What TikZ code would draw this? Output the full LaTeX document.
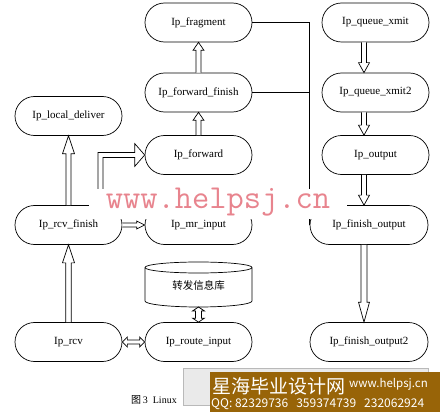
\documentclass[tikz,border=0pt]{standalone}
\usepackage{fontspec}
\setmainfont{Liberation Serif}
\newfontfamily\cjk{Noto Sans CJK SC}
\usetikzlibrary{shapes.misc,calc}
\definecolor{wmpink}{RGB}{232,132,142}
\definecolor{bannerbrown}{RGB}{152,100,8}
\definecolor{boxgrey}{RGB}{234,234,234}
\tikzset{
  proc/.style={rounded rectangle, draw, line width=0.7pt, minimum width=107pt,
    minimum height=39pt, inner sep=0pt, font=\fontsize{11}{13}\selectfont},
  blk/.style={draw, line width=0.7pt, line join=miter, fill=white},
  conn/.style={draw, line width=0.7pt},
}
% single block arrow: from, to, half shaft, half head, head length
\newcommand\blkarrow[5]{%
  \coordinate (bkH) at ($(#2)!#5!(#1)$);
  \draw[blk] ($(#1)!#3!90:(#2)$) -- ($(bkH)!#3!90:(#2)$) -- ($(bkH)!#4!90:(#2)$)
    -- (#2) -- ($(bkH)!#4!-90:(#2)$) -- ($(bkH)!#3!-90:(#2)$) -- ($(#1)!#3!-90:(#2)$);}
% double-headed block arrow
\newcommand\dblarrow[5]{%
  \coordinate (bkA) at ($(#1)!#5!(#2)$);
  \coordinate (bkB) at ($(#2)!#5!(#1)$);
  \draw[blk] (#2) -- ($(bkB)!#4!90:(#2)$) -- ($(bkB)!#3!90:(#2)$) -- ($(bkA)!#3!90:(#2)$)
    -- ($(bkA)!#4!90:(#2)$) -- (#1) -- ($(bkA)!#4!-90:(#2)$) -- ($(bkA)!#3!-90:(#2)$)
    -- ($(bkB)!#3!-90:(#2)$) -- ($(bkB)!#4!-90:(#2)$) -- cycle;}
\begin{document}
\begin{tikzpicture}[x=1pt,y=-1pt]
\fill[white] (0,0) rectangle (440,412);
\useasboundingbox (0,0) rectangle (440,412);

% nodes
\node[proc] (frag) at (198.5,22.5) {Ip\_fragment};
\node[proc] (ffin) at (198.5,92.5) {Ip\_forward\_finish};
\node[proc] (fwd)  at (198.5,155) {Ip\_forward};
\node[proc] (mr)   at (198.5,225) {Ip\_mr\_input};
\node[proc] (route) at (198.5,342) {Ip\_route\_input};
\node[proc] (ldel) at (68.5,116) {Ip\_local\_deliver};
\node[proc] (rcvf) at (68.5,225) {Ip\_rcv\_finish};
\node[proc] (rcv)  at (68.5,342) {Ip\_rcv};
\node[proc] (qx)   at (375.5,22.5) {Ip\_queue\_xmit};
\node[proc] (qx2)  at (375.5,92.5) {Ip\_queue\_xmit2};
\node[proc] (out)  at (375.5,155) {Ip\_output};
\node[proc, minimum width=118pt] (fo)  at (369,225) {Ip\_finish\_output};
\node[proc, minimum width=118pt] (fo2) at (369,342) {Ip\_finish\_output2};

% database cylinder
\node[minimum width=107pt, minimum height=45pt, inner sep=0pt,
  font=\cjk\fontsize{10.5}{12}\selectfont] (db) at (198.5,285) {转发信息库};
\draw[conn] (145,267.5) -- (145,301) arc[start angle=180, end angle=360, x radius=53.5pt, y radius=6pt] -- (252,267.5);
\draw[conn] (198.5,267.5) ellipse[x radius=53.5pt, y radius=5.5pt];

% plain connector lines
\draw[conn] (frag.east) -| (fo.west);
\draw[conn] (ffin.east) -- (ffin.east -| fo.west);

% block arrows, centre column
\blkarrow{ffin.north}{frag.south}{2.5pt}{5.5pt}{8pt}
\blkarrow{fwd.north}{ffin.south}{2.5pt}{5.5pt}{8pt}
% left column
\blkarrow{rcvf.north}{ldel.south}{2.5pt}{6pt}{18pt}
\blkarrow{rcv.north}{rcvf.south}{2.7pt}{6pt}{18pt}
\blkarrow{rcvf.east}{mr.west}{2pt}{4pt}{8pt}
\dblarrow{rcv.east}{route.west}{2pt}{5pt}{5pt}
\coordinate (dbb) at (198.5,307);
\dblarrow{dbb}{route.north}{3pt}{6pt}{4pt}
% right column (off-centre)
\coordinate (qxs) at ($(qx.south)+(-11.5,0)$);
\coordinate (qx2n) at ($(qx2.north)+(-11.5,0)$);
\coordinate (qx2s) at ($(qx2.south)+(-11.5,0)$);
\coordinate (outn) at ($(out.north)+(-11.5,0)$);
\coordinate (outs) at ($(out.south)+(-11.5,0)$);
\coordinate (fon) at ($(fo.north)+(-5,0)$);
\coordinate (fos) at ($(fo.south)+(-5,0)$);
\coordinate (fo2n) at ($(fo2.north)+(-5,0)$);
\blkarrow{qxs}{qx2n}{2.5pt}{5.5pt}{10pt}
\blkarrow{qx2s}{outn}{2.5pt}{5.5pt}{10pt}
\blkarrow{outs}{fon}{2.5pt}{5.5pt}{10pt}
\blkarrow{fos}{fo2n}{3pt}{5.5pt}{20pt}
% elbow arrow rcv_finish -> forward
\coordinate (e0) at ($(rcvf.north)+(32,0)$);
\coordinate (eC) at (e0 |- fwd.west);
\coordinate (eH) at ($(fwd.west)+(-10,0)$);
\draw[blk] ($(e0)+(-2.5,0)$) -- ($(eC)+(-2.5,-2.5)$) -- ($(eH)+(0,-2.5)$) -- ($(eH)+(0,-11.5)$)
  -- (fwd.west) -- ($(eH)+(0,11.5)$) -- ($(eH)+(0,2.5)$) -- ($(eC)+(2.5,2.5)$) -- ($(e0)+(2.5,0)$);

% watermark
\fill[white] (89,189) rectangle (347,219);
\node[text=wmpink, font=\ttfamily\fontsize{33.5}{34}\selectfont, inner sep=0pt] (wm) at (218,202) {www.helpsj.cn};

% caption and banner
\node[anchor=west, inner sep=0pt, font=\fontsize{10}{11}\selectfont] (cap) at (131,400) {{\cjk 图}\,3\ \ Linux};
\draw[fill=boxgrey, draw=gray!55] (183,368) rectangle (428,405);
\fill[bannerbrown] (210,372) rectangle (440,412);
\node[anchor=west, text=white, inner sep=0pt, font=\cjk\fontsize{19}{20}\selectfont] (b1) at (212,386) {星海毕业设计网};
\node[anchor=west, text=white, inner sep=0pt, font=\cjk\fontsize{11.5}{12}\selectfont] (b2) at (349,384) {www.helpsj.cn};
\node[anchor=west, text=white, inner sep=0pt, font=\cjk\fontsize{12}{13}\selectfont] (b3) at (211,404) {QQ:\ 82329736\hspace{8pt}359374739\hspace{8pt}232062924};
\end{tikzpicture}
\end{document}
